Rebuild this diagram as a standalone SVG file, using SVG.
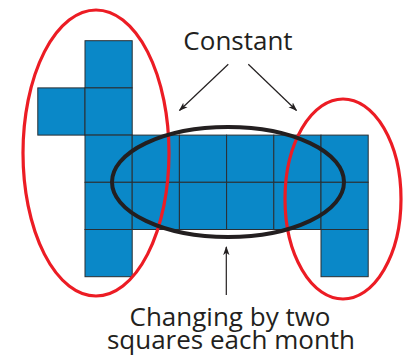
<svg xmlns="http://www.w3.org/2000/svg" width="403" height="356" viewBox="0 0 403 356">
<defs>
<style>
.sq{fill:#0a88c8;stroke:#2a2f33;stroke-width:1}
.red{fill:none;stroke:#ec1c24;stroke-width:3.2}
.blk{fill:none;stroke:#231f20;stroke-width:4}
.arr{stroke:#231f20;stroke-width:1.2;fill:none;marker-end:url(#ah)}
.t{font-family:"Open Sans","Liberation Sans",sans-serif;font-size:26px;fill:#231f20;text-anchor:middle}
</style>
<marker id="ah" viewBox="0 0 10 10" refX="9" refY="5" markerWidth="9" markerHeight="9" markerUnits="userSpaceOnUse" orient="auto">
<path d="M0,1.5 L10,5 L0,8.5 L2.5,5 Z" fill="#231f20"/>
</marker>
</defs>
<g id="grid">
<rect class="sq" x="85" y="40.7" width="47.2" height="47.2"/>
<rect class="sq" x="37.8" y="87.9" width="47.2" height="47.2"/>
<rect class="sq" x="85" y="87.9" width="47.2" height="47.2"/>
<rect class="sq" x="85" y="135.1" width="47.2" height="47.2"/>
<rect class="sq" x="132.2" y="135.1" width="47.2" height="47.2"/>
<rect class="sq" x="179.4" y="135.1" width="47.2" height="47.2"/>
<rect class="sq" x="226.6" y="135.1" width="47.2" height="47.2"/>
<rect class="sq" x="273.8" y="135.1" width="47.2" height="47.2"/>
<rect class="sq" x="321" y="135.1" width="47.2" height="47.2"/>
<rect class="sq" x="85" y="182.3" width="47.2" height="47.2"/>
<rect class="sq" x="132.2" y="182.3" width="47.2" height="47.2"/>
<rect class="sq" x="179.4" y="182.3" width="47.2" height="47.2"/>
<rect class="sq" x="226.6" y="182.3" width="47.2" height="47.2"/>
<rect class="sq" x="273.8" y="182.3" width="47.2" height="47.2"/>
<rect class="sq" x="321" y="182.3" width="47.2" height="47.2"/>
<rect class="sq" x="85" y="229.5" width="47.2" height="47.2"/>
<rect class="sq" x="321" y="229.5" width="47.2" height="47.2"/>
</g>
<g id="left-ellipse"><ellipse class="red" cx="96" cy="153" rx="73" ry="143"/></g>
<g id="right-ellipse"><ellipse class="red" cx="343" cy="199" rx="58" ry="100"/></g>
<g id="middle-ellipse"><ellipse class="blk" cx="228" cy="182" rx="116" ry="55"/></g>
<g id="constant"><text class="t" x="238" y="50">Constant</text></g>
<g id="changing"><text class="t" x="230" y="325.5">Changing by two</text><text class="t" x="231" y="349">squares each month</text></g>
<g id="connectors">
<line class="arr" x1="228.3" y1="64.3" x2="179.5" y2="110.5"/>
<line class="arr" x1="248.3" y1="64.3" x2="296.5" y2="110.5"/>
<line class="arr" x1="226.3" y1="295" x2="226.3" y2="247"/>
</g>
</svg>
